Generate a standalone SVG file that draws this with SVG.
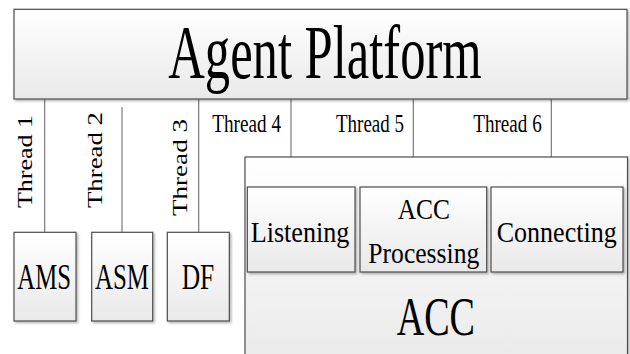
<svg xmlns="http://www.w3.org/2000/svg" width="630" height="354" viewBox="0 0 630 354">
<defs>
<linearGradient id="g" x1="0" y1="0" x2="0" y2="1">
<stop offset="0" stop-color="#ffffff"/>
<stop offset="1" stop-color="#e9e9e9"/>
</linearGradient>
<filter id="sh" x="-5%" y="-5%" width="115%" height="115%">
<feDropShadow dx="1.5" dy="1.5" stdDeviation="0.8" flood-color="#000" flood-opacity="0.3"/>
</filter>
</defs>
<style>
.box{fill:url(#g);stroke:#4d4d4d;stroke-width:1.2;filter:url(#sh)}
.ln{stroke:#7a7a7a;stroke-width:1.2;fill:none}
</style>
<rect width="630" height="354" fill="#fff"/>
<g id="connectors">
<line class="ln" x1="44.7" y1="99" x2="44.7" y2="232"/>
<line class="ln" x1="122" y1="107" x2="122" y2="232"/>
<line class="ln" x1="198.7" y1="99" x2="198.7" y2="232"/>
<line class="ln" x1="291" y1="99" x2="291" y2="187"/>
<line class="ln" x1="413.3" y1="99" x2="413.3" y2="187"/>
<line class="ln" x1="551.3" y1="99" x2="551.3" y2="187"/>
<text font-family="Liberation Serif" font-size="26" transform="translate(32.3,208) scale(0.8,1) rotate(-90)" textLength="93" lengthAdjust="spacingAndGlyphs">Thread 1</text>
<text font-family="Liberation Serif" font-size="26" transform="translate(101.7,208) scale(0.8,1) rotate(-90)" textLength="96" lengthAdjust="spacingAndGlyphs">Thread 2</text>
<text font-family="Liberation Serif" font-size="26" transform="translate(186.7,216) scale(0.8,1) rotate(-90)" textLength="97" lengthAdjust="spacingAndGlyphs">Thread 3</text>
<text font-family="Liberation Serif" font-size="26" x="212.3" y="131.5" textLength="68.7" lengthAdjust="spacingAndGlyphs">Thread 4</text>
<text font-family="Liberation Serif" font-size="26" x="336" y="131.5" textLength="68" lengthAdjust="spacingAndGlyphs">Thread 5</text>
<text font-family="Liberation Serif" font-size="26" x="473.3" y="131.5" textLength="68.4" lengthAdjust="spacingAndGlyphs">Thread 6</text>
</g>

<g id="platform">
<rect class="box" x="14" y="9.3" width="613" height="89.7"/>
<text font-family="Liberation Serif" font-size="76" x="168.3" y="78.3" textLength="313.4" lengthAdjust="spacingAndGlyphs">Agent Platform</text>
</g>

<g id="ams">
<rect class="box" x="14" y="232.3" width="62" height="88.7"/>
<text font-family="Liberation Serif" font-size="35" x="17.3" y="289" textLength="53.7" lengthAdjust="spacingAndGlyphs">AMS</text>
</g>
<g id="asm">
<rect class="box" x="91.7" y="232.3" width="61" height="88.7"/>
<text font-family="Liberation Serif" font-size="35" x="95" y="289" textLength="54" lengthAdjust="spacingAndGlyphs">ASM</text>
</g>
<g id="df">
<rect class="box" x="167.3" y="232.3" width="62" height="88.7"/>
<text font-family="Liberation Serif" font-size="35" x="181.7" y="289" textLength="32.6" lengthAdjust="spacingAndGlyphs">DF</text>
</g>

<g id="acc">
<rect class="box" x="245" y="157" width="382.5" height="215"/>
<text font-family="Liberation Serif" font-size="55" x="396.7" y="335" textLength="78.3" lengthAdjust="spacingAndGlyphs">ACC</text>
</g>
<g id="listening">
<rect class="box" x="247.3" y="187" width="107.7" height="85"/>
<text font-family="Liberation Serif" font-size="30" x="250.7" y="241.7" textLength="98.6" lengthAdjust="spacingAndGlyphs">Listening</text>
</g>
<g id="acc-processing">
<rect class="box" x="360" y="187" width="126.7" height="85"/>
<text font-family="Liberation Serif" font-size="30" x="397.7" y="219.3" textLength="52.3" lengthAdjust="spacingAndGlyphs">ACC</text>
<text font-family="Liberation Serif" font-size="30" x="368.3" y="263.3" textLength="111" lengthAdjust="spacingAndGlyphs">Processing</text>
</g>
<g id="connecting">
<rect class="box" x="491" y="187" width="132" height="85"/>
<text font-family="Liberation Serif" font-size="30" x="496.7" y="241.7" textLength="120" lengthAdjust="spacingAndGlyphs">Connecting</text>
</g>
</svg>
